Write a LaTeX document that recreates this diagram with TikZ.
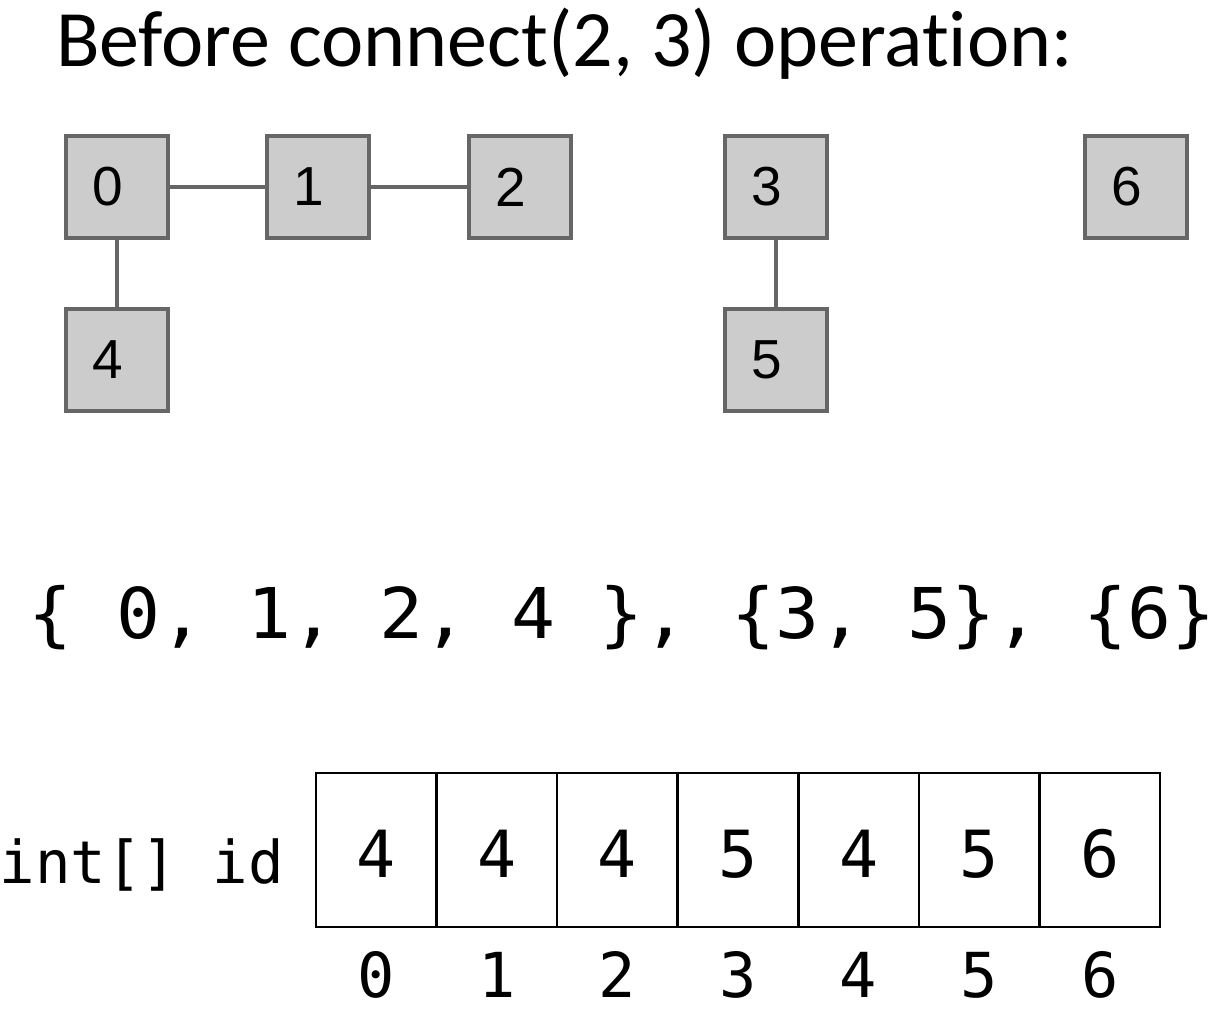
\documentclass[tikz,border=0pt]{standalone}
\usepackage{fontspec}
\setmainfont{Carlito}[Ligatures=NoCommon]
\newfontfamily\monof{DejaVu Sans Mono}
\newfontfamily\arialf{Liberation Sans}
\definecolor{nodefill}{HTML}{CCCCCC}
\definecolor{nodeline}{HTML}{666666}
\tikzset{
  gnode/.style={draw=nodeline, fill=nodefill, line width=4pt, minimum width=102pt, minimum height=102pt, inner sep=0pt, font=\arialf\fontsize{55}{57}\selectfont, execute at begin node={\hspace*{-18pt}}},
  gedge/.style={draw=nodeline, line width=4pt},
  cell/.style={draw=black, line width=2.5pt, minimum width=120.57pt, minimum height=154pt, inner sep=0pt},
  cellval/.style={inner sep=0pt, anchor=base, font=\monof\fontsize{65}{67}\selectfont},
  idx/.style={inner sep=0pt, anchor=base, font=\monof\fontsize{62}{64}\selectfont},
}
\begin{document}
\begin{tikzpicture}[x=1pt,y=-1pt]
\useasboundingbox (0,0) rectangle (1232,1028);
\node[anchor=base west, inner sep=0pt, font=\fontsize{80}{82}\selectfont] (title) at (56,66) {Before connect(2, 3) operation:};
% graph nodes
\node[gnode] (n0) at (117,187) {0};
\node[gnode] (n1) at (318,187) {1};
\node[gnode] (n2) at (520,187) {2};
\node[gnode] (n3) at (776,187) {3};
\node[gnode] (n6) at (1136,187) {6};
\node[gnode] (n4) at (117,360) {4};
\node[gnode] (n5) at (776,360) {5};
\draw[gedge] (n0) -- (n1);
\draw[gedge] (n1) -- (n2);
\draw[gedge] (n0) -- (n4);
\draw[gedge] (n3) -- (n5);
% sets
\node[anchor=base, inner sep=0pt, font=\monof\fontsize{70}{72}\selectfont] (sets) at (622,638) {\scalebox{1.044}[1]{\{ 0, 1, 2, 4 \}, \{3, 5\}, \{6\}}};
% array
\node[anchor=base east, inner sep=0pt, font=\monof\fontsize{59}{61}\selectfont] (lbl) at (284,883) {int[] id};
\foreach \v [count=\i from 0] in {4,4,4,5,4,5,6} {
  \node[cell] (c\i) at ({316+120.57*(\i+0.5)},850) {};
  \node[cellval] (v\i) at ({316+120.57*(\i+0.5)},877) {\v};
  \node[idx] (i\i) at ({316+120.57*(\i+0.5)},997) {\i};
}
\end{tikzpicture}
\end{document}
